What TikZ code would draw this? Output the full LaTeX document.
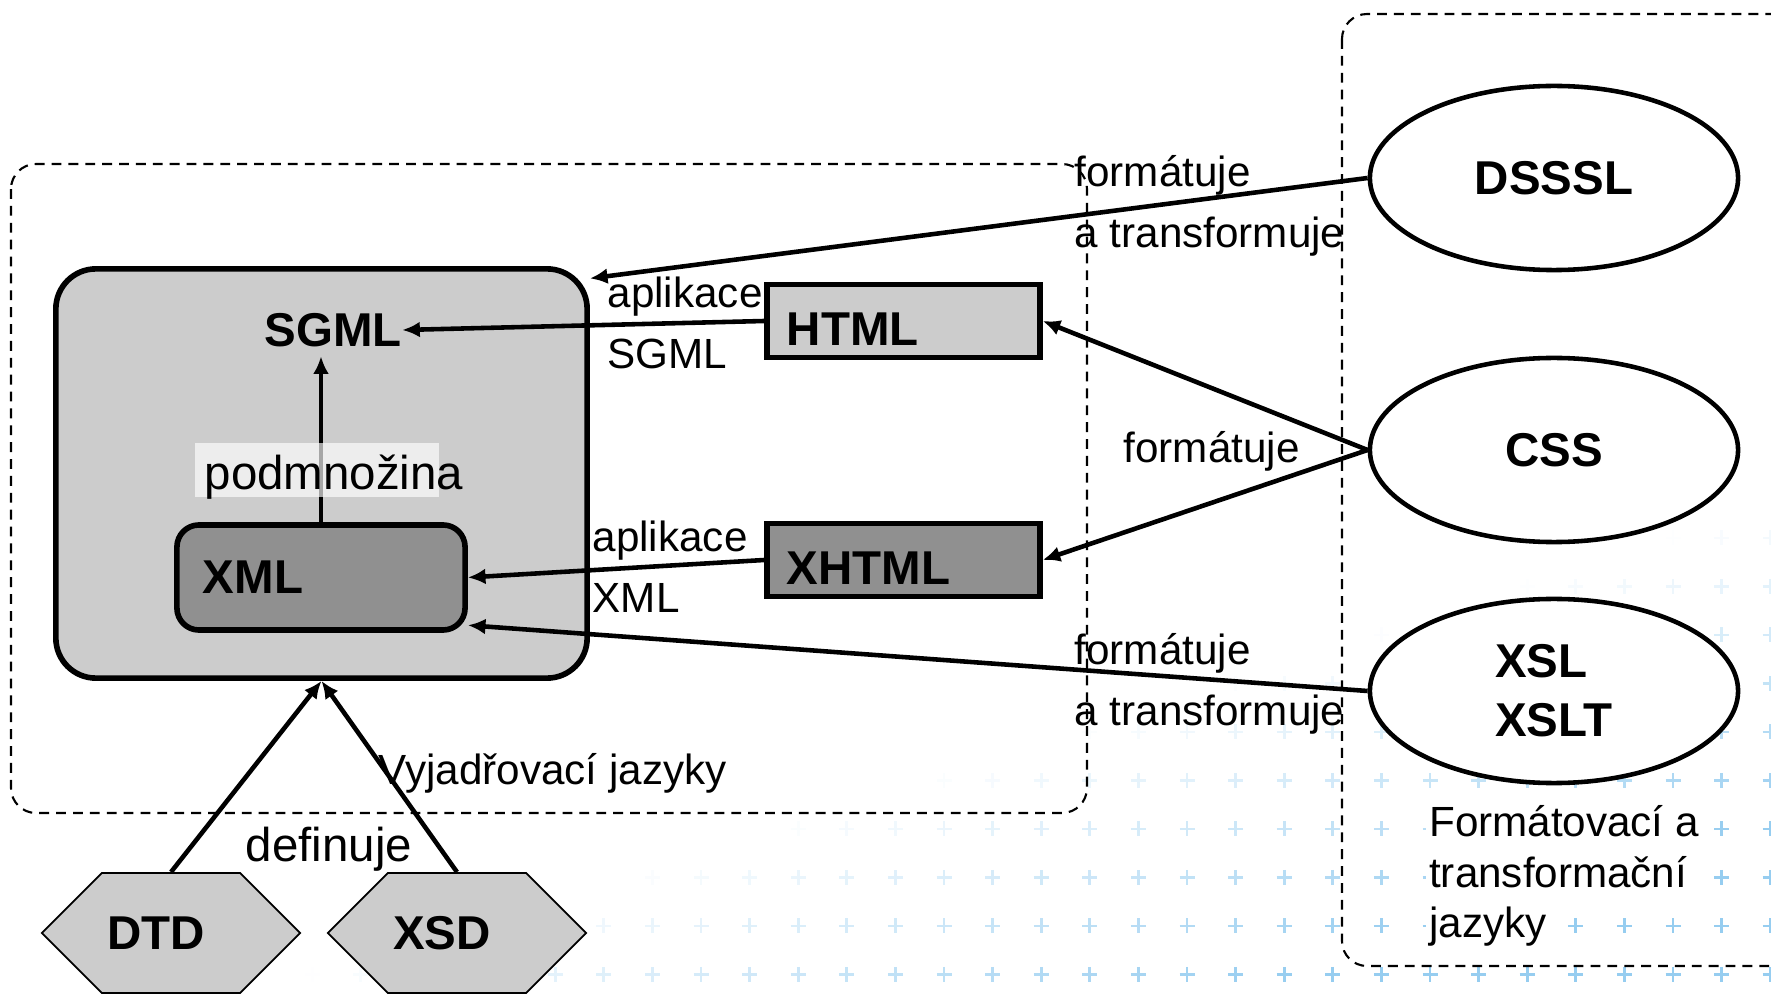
\documentclass[tikz,border=0pt]{standalone}
\usepackage{fontspec}
\setmainfont{Liberation Sans}
\usetikzlibrary{shapes.geometric,shapes.symbols,arrows.meta}

\definecolor{lightbox}{gray}{0.8}
\definecolor{darkbox}{gray}{0.565}
\definecolor{plusblue}{RGB}{150,205,240}
\newcommand{\wbg}[1]{{\setlength{\fboxsep}{1pt}\colorbox{white}{#1}}}

\tikzset{
  lang/.style={font=\fontsize{13.5}{16.7}\selectfont\bfseries},
  lbl/.style={font=\fontsize{12}{17.5}\selectfont, inner sep=0pt, align=left, anchor=base west},
  conn/.style={line width=1.3pt, -{Latex[length=5pt,width=4.5pt]}},
  group/.style={line width=0.6pt, dash pattern=on 2.8pt off 2pt, rounded corners=0.25cm},
  doc/.style={lang, draw, line width=1.5pt, minimum height=0.66cm, text width=2.33cm,
    inner xsep=0.2cm, align=left, text height=14pt, text depth=0pt},
  oval/.style={lang, ellipse, draw, fill=white, line width=1.3pt, minimum width=3.68cm,
    minimum height=1.84cm, inner sep=0pt, align=left},
  hexa/.style={lang, signal, signal to=west and east, draw, fill=lightbox, line width=0.5pt,
    minimum width=2.58cm, minimum height=1.2cm, inner sep=0pt}
}

\begin{document}
\begin{tikzpicture}[x=0.01cm,y=-0.01cm]
\useasboundingbox (0,0) rectangle (1771,994);
\clip (0,0) rectangle (1771,994);

% background pluses
\foreach \i in {-19,...,12}{
  \foreach \j in {0,...,9}{
    \pgfmathsetmacro{\px}{1187+48.6*\i}
    \pgfmathsetmacro{\py}{538+48.5*\j}
    \pgfmathsetmacro{\fade}{min(1,(\px+3.1*\py-3320)/1000)}
    \ifdim \fade pt>0pt
      \draw[plusblue, line width=0.8pt, opacity=\fade] (\px-7.5,\py) -- (\px+7.5,\py) (\px,\py-7.5) -- (\px,\py+7.5);
    \fi
  }
}

\draw[group] (11,164) rectangle (1087,813);
\draw[group] (1342,14) rectangle (1800,966);

\node[draw, fill=lightbox, line width=1.6pt, rounded corners=0.4cm, minimum width=5.31cm,
  minimum height=4.09cm] (sgmlbox) at (321.5,473.5) {};
\node[lang, inner xsep=0pt, inner ysep=2.5pt] (sgml) at (333,330) {SGML};
\node[lang, draw, fill=darkbox, line width=1.6pt, rounded corners=0.22cm, minimum height=1.05cm,
  text width=2.36cm, inner xsep=0.26cm, align=left] (xml) at (321,577.5) {XML};
\draw[conn] (xml.north) -- (xml.north |- sgml.south);
\fill[white, opacity=0.65] (195,443) rectangle (439,497);
\node[lbl, font=\fontsize{13.5}{16}\selectfont] (subset) at (204,490) {podmnožina};

\node[doc, fill=lightbox] (html) at (903.5,321) {HTML};
\node[doc, fill=darkbox] (xhtml) at (903.5,560) {XHTML};

\node[oval] (dsssl) at (1554,178) {DSSSL};
\node[oval] (css) at (1554,450) {CSS};
\node[oval] (xsl) at (1554,691) {XSL\\XSLT};

\node[hexa] (dtd) at (171,933) {DTD\hspace*{0.3cm}};
\node[hexa] (xsd) at (457,933) {XSD\hspace*{0.3cm}};

\draw[conn] (html.west) -- (sgml.east);
\draw[conn] (xhtml.west) -- (xml.east);
\draw[conn] (dsssl.west) -- (sgmlbox.36);
\draw[conn] (css.west) -- (html.east);
\draw[conn] (css.west) -- (xhtml.east);
\draw[conn] (xsl.west) -- (xml.-18);
\draw[conn] (dtd.north) -- (sgmlbox.south);
\draw[conn] (xsd.north) -- (sgmlbox.south);

% multi-line labels sit on their last baseline
\node[lbl] (l1) at (607,369) {aplikace\\SGML};
\node[lbl] (l2) at (592,613) {aplikace\\XML};
\node[lbl] (l3) at (1074,248) {formátuje\\a transformuje};
\node[lbl] (l4) at (1123,463) {formátuje};
\node[lbl] (l5) at (1074,726) {formátuje\\a transformuje};
\node[lbl, font=\fontsize{13.5}{16}\selectfont] (l6) at (245,862) {definuje};
\node[lbl] (expr) at (378,785) {Vyjadřovací jazyky};
\node[lbl, font=\fontsize{12}{14.5}\selectfont] (fmt) at (1425,938)
  {\wbg{Formátovací a}\\\wbg{transformační}\\\wbg{jazyky}};
\end{tikzpicture}
\end{document}
